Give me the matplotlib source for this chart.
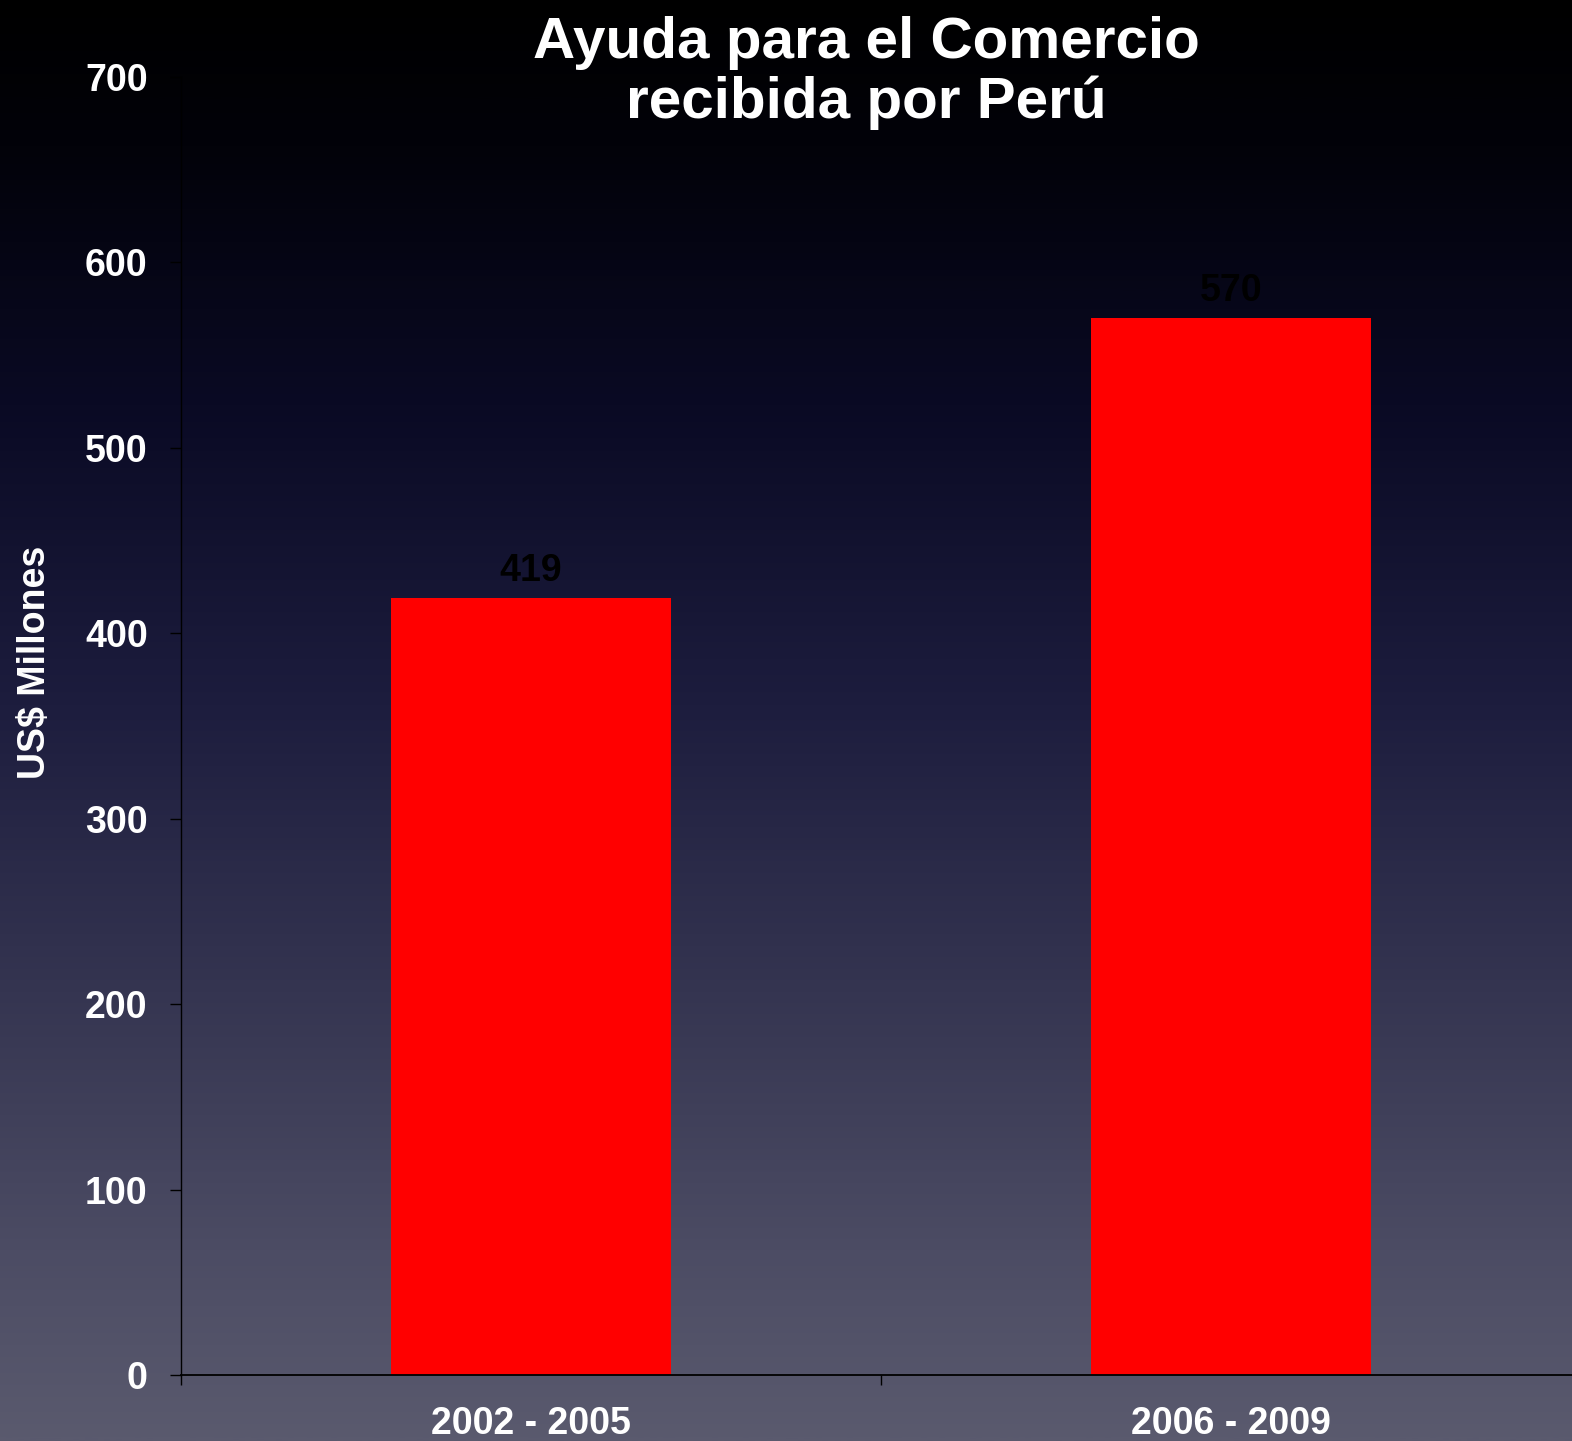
import numpy as np
import matplotlib.pyplot as plt
from matplotlib.colors import LinearSegmentedColormap

plt.rcParams['font.family'] = ['Liberation Sans', 'DejaVu Sans']

periods = ['2002 - 2005', '2006 - 2009']
values = [419, 570]
yticks = [0, 100, 200, 300, 400, 500, 600, 700]

fig = plt.figure(figsize=(15.72, 14.41), dpi=100)

# background gradient, black at top to grey-blue at bottom
bg = fig.add_axes([0, 0, 1, 1], zorder=0)
stops = [(0.0, '#000000'), (0.10, '#020209'), (0.28, '#0a0a24'),
         (0.49, '#1d1d3e'), (0.69, '#353551'), (0.87, '#4c4c64'),
         (1.0, '#5a5a6e')]
cmap = LinearSegmentedColormap.from_list('bg', stops)
grad = np.linspace(0, 1, 512).reshape(-1, 1)
bg.imshow(grad, aspect='auto', cmap=cmap, extent=[0, 1, 0, 1], origin='upper')
bg.axis('off')

ax = fig.add_axes([181 / 1572, 1 - 1375 / 1441, 1400 / 1572, (1375 - 77) / 1441], zorder=1)
ax.patch.set_alpha(0)

x = np.arange(len(periods))
ax.bar(x, values, width=0.4, color='#ff0000', zorder=2)
for xi, v in zip(x, values):
    ax.text(xi, v + 5, str(v), ha='center', va='bottom', fontsize=27,
            fontweight='bold', color='black')

ax.set_xlim(-0.5, 1.5)
ax.set_ylim(0, 700)
ax.set_yticks(yticks)
ax.set_yticklabels([str(t) for t in yticks])
ax.set_xticks(x)
ax.set_xticklabels(periods)
ax.set_xticks([-0.5, 0.5, 1.5], minor=True)

ax.tick_params(axis='y', length=8, width=1, color='#000000', pad=16,
               labelsize=27, labelcolor='white')
ax.tick_params(axis='x', which='major', length=0, pad=22,
               labelsize=27, labelcolor='white')
ax.tick_params(axis='x', which='minor', length=7, width=1, color='#000000')
for lab in ax.get_xticklabels() + ax.get_yticklabels():
    lab.set_fontweight('bold')

for s in ['top', 'right']:
    ax.spines[s].set_visible(False)
ax.spines['left'].set_color('#000000')
ax.spines['bottom'].set_color('#000000')
ax.spines['left'].set_linewidth(1)
ax.spines['bottom'].set_linewidth(1.3)

fig.text(35 / 1572, 1 - 662 / 1441, 'US$ Millones', rotation=90, ha='center',
         va='center', fontsize=27, fontweight='bold', color='white')
fig.text(866 / 1572, 1 - 73 / 1441, 'Ayuda para el Comercio\nrecibida por Perú',
         ha='center', va='center', fontsize=42, fontweight='bold', color='white',
         linespacing=1.12)

fig.savefig('out.png', dpi=100)
